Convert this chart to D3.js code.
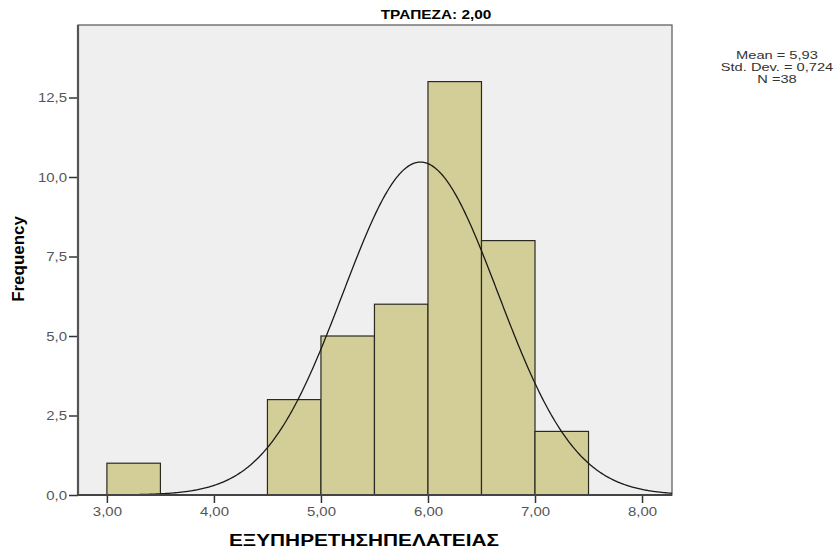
<!DOCTYPE html>
<html>
<head>
<meta charset="utf-8">
<script src="https://cdn.jsdelivr.net/npm/d3@7"></script>
<style>
  body { margin: 0; background: #fff; }
  svg { display: block; font-family: "Liberation Sans", Arial, sans-serif; }
</style>
</head>
<body>
<div id="chart"></div>
<script>
// histogram bins (lower edge, upper edge) and counts
var binStart = [3.0, 4.5, 5.0, 5.5, 6.0, 6.5, 7.0];
var binEnd   = [3.5, 5.0, 5.5, 6.0, 6.5, 7.0, 7.5];
var counts   = [1, 3, 5, 6, 13, 8, 2];
var xTicks = [3, 4, 5, 6, 7, 8];
var yTicks = [0, 2.5, 5, 7.5, 10, 12.5];
var statsLines = ["Mean = 5,93", "Std. Dev. = 0,724", "N =38"];
var mean = 5.93, sd = 0.724, n = 38, binWidth = 0.5;
var title = "ΤΡΑΠΕΖΑ: 2,00";
var xLabel = "ΕΞΥΠΗΡΕΤΗΣΗΠΕΛΑΤΕΙΑΣ";
var yLabel = "Frequency";

var W = 837, H = 552;
var plot = {left: 78, top: 25, right: 672, bottom: 495};
var fmt = d3.format(".2f"), fmt1 = d3.format(".1f");
var comma = s => s.replace(".", ",");

// the original export is stretched sideways a bit, widen the text to match
function stretch(sel, k) {
    sel.each(function() {
        var w = this.getComputedTextLength();
        d3.select(this).attr("textLength", w * k).attr("lengthAdjust", "spacingAndGlyphs");
    });
}

var svg = d3.select("#chart").append("svg")
    .attr("width", W).attr("height", H);

var x = d3.scaleLinear().domain([2.73, 8.28]).range([plot.left, plot.right]);
var y = d3.scaleLinear().domain([0, 14.78]).range([plot.bottom, plot.top]);

// plot background
svg.append("rect")
    .attr("x", plot.left).attr("y", plot.top)
    .attr("width", plot.right - plot.left).attr("height", plot.bottom - plot.top)
    .attr("fill", "#efefef").attr("stroke", "#555").attr("stroke-width", 1.2);

// bars
var bars = binStart.map((s, i) => ({s: s, e: binEnd[i], c: counts[i]}));
svg.append("g").selectAll("rect")
    .data(bars)
    .join("rect")
    .attr("x", d => x(d.s))
    .attr("y", d => y(d.c))
    .attr("width", d => x(d.e) - x(d.s))
    .attr("height", d => y(0) - y(d.c))
    .attr("fill", "#d3ce97")
    .attr("stroke", "#2a2a22")
    .attr("stroke-width", 1.2);

// normal curve from the stated mean / sd
var pts = d3.range(2.73, 8.281, 0.01).map(v => [v,
    n * binWidth / (sd * Math.sqrt(2 * Math.PI)) * Math.exp(-0.5 * Math.pow((v - mean) / sd, 2))]);
svg.append("path")
    .datum(pts)
    .attr("fill", "none")
    .attr("stroke", "#1a1a1a")
    .attr("stroke-width", 1.3)
    .attr("d", d3.line().x(d => x(d[0])).y(d => y(d[1])));

// axes
var xAxis = svg.append("g")
    .attr("transform", `translate(0,${plot.bottom})`)
    .call(d3.axisBottom(x).tickValues(xTicks).tickSize(8).tickPadding(4)
        .tickFormat(d => comma(fmt(d))));
var yAxis = svg.append("g")
    .attr("transform", `translate(${plot.left},0)`)
    .call(d3.axisLeft(y).tickValues(yTicks).tickSize(9).tickPadding(2)
        .tickFormat(d => comma(fmt1(d))));
[xAxis, yAxis].forEach(g => {
    g.select(".domain").remove();
    g.selectAll(".tick line").attr("stroke", "#333").attr("stroke-width", 1.5);
    g.selectAll(".tick text").attr("fill", "#555").attr("font-size", 13)
        .attr("font-family", "Liberation Sans, Arial, sans-serif")
        .call(stretch, 1.15);
});
// heavier left and bottom axis lines
svg.append("line").attr("x1", plot.left).attr("x2", plot.left)
    .attr("y1", plot.top).attr("y2", plot.bottom)
    .attr("stroke", "#555").attr("stroke-width", 2.2);
svg.append("line").attr("x1", plot.left - 1).attr("x2", plot.right)
    .attr("y1", plot.bottom).attr("y2", plot.bottom)
    .attr("stroke", "#444").attr("stroke-width", 2);

// title
svg.append("text")
    .attr("x", 436).attr("y", 19)
    .attr("text-anchor", "middle")
    .attr("font-size", 12).attr("font-weight", "bold")
    .text(title)
    .call(stretch, 1.28);

// stats box
svg.append("g").selectAll("text")
    .data(statsLines)
    .join("text")
    .attr("x", 777).attr("y", (d, i) => 59 + i * 12)
    .attr("text-anchor", "middle")
    .attr("font-size", 11)
    .attr("fill", "#333")
    .text(d => d)
    .call(stretch, 1.33);

// axis titles
svg.append("text")
    .attr("x", 364).attr("y", 546)
    .attr("text-anchor", "middle")
    .attr("font-size", 16).attr("font-weight", "bold")
    .text(xLabel)
    .call(stretch, 1.3);
svg.append("text")
    .attr("transform", "translate(24,259) rotate(-90)")
    .attr("text-anchor", "middle")
    .attr("font-size", 16).attr("font-weight", "bold")
    .text(yLabel)
    .call(stretch, 1.06);
</script>
</body>
</html>
